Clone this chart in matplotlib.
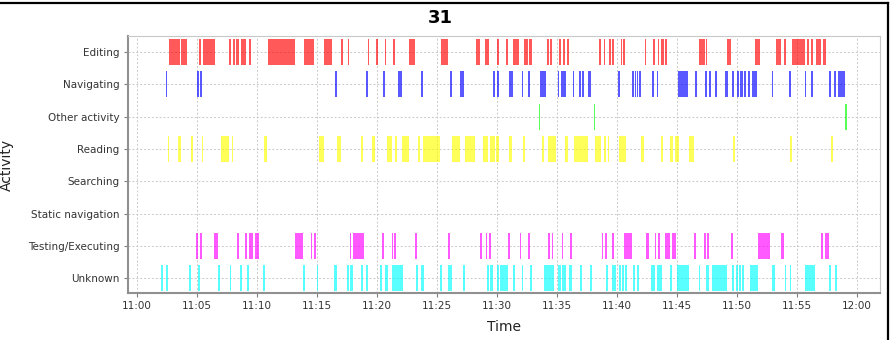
import matplotlib
matplotlib.use("Agg")
import matplotlib.pyplot as plt
from matplotlib.ticker import FuncFormatter, MultipleLocator
from matplotlib.lines import Line2D

# activity intervals, minutes after 11:00 (start, end)
editing = [
    (2.67, 3.58), (3.67, 4.17), (5.17, 5.31), (5.5, 6.5), (7.69, 7.83),
    (8.0, 8.17), (8.25, 8.5), (8.64, 9.06), (9.36, 9.47), (10.89, 13.17),
    (13.92, 14.47), (14.53, 14.75), (15.58, 16.28), (17.03, 17.19), (17.56, 17.67),
    (19.25, 19.36), (19.89, 20.08), (20.64, 20.75), (21.36, 21.5), (22.69, 23.17),
    (25.31, 25.92), (28.25, 28.58), (29.0, 29.14), (29.19, 29.36), (30.03, 30.14),
    (30.75, 30.89), (31.36, 31.86), (32.28, 32.58), (32.69, 32.89), (34.14, 34.31),
    (34.44, 34.61), (35.19, 35.33), (35.47, 35.69), (35.83, 36.03), (38.53, 38.69),
    (38.92, 39.03), (39.36, 39.53), (39.58, 39.78), (40.33, 40.44), (40.53, 40.69),
    (42.33, 42.46), (43.03, 43.19), (43.38, 43.5), (43.71, 43.92), (44.0, 44.21),
    (46.81, 47.31), (47.42, 47.53), (49.21, 49.53), (51.53, 51.96), (53.25, 53.67),
    (53.96, 54.11), (54.61, 55.65), (55.86, 55.97), (56.14, 56.35), (56.56, 56.97),
    (57.21, 57.38),
]
navigating = [
    (2.42, 2.53), (5.04, 5.19), (5.25, 5.44), (16.5, 16.64), (19.08, 19.25),
    (20.53, 20.67), (21.78, 22.06), (23.67, 23.86), (26.08, 26.22), (26.92, 27.28),
    (29.64, 29.83), (29.97, 30.19), (31.03, 31.36), (32.08, 32.19), (32.58, 32.72),
    (33.58, 34.08), (35.06, 35.19), (35.33, 35.75), (36.31, 36.44), (36.81, 36.97),
    (37.08, 37.28), (37.61, 37.81), (40.08, 40.25), (41.29, 41.42), (41.5, 41.58),
    (41.67, 41.79), (41.86, 42.0), (42.96, 43.08), (43.31, 43.42), (45.08, 45.96),
    (46.5, 46.67), (47.33, 47.5), (47.67, 47.83), (48.19, 48.36), (49.04, 49.25),
    (49.58, 49.75), (50.0, 50.17), (50.25, 50.5), (50.58, 50.75), (50.92, 51.08),
    (51.25, 51.67), (52.92, 53.03), (54.33, 54.5), (55.67, 55.79), (56.21, 56.36),
    (57.67, 57.83), (58.08, 58.25), (58.42, 59.03),
]
other = [(33.47, 33.6), (38.08, 38.2), (59.04, 59.17)]
reading = [
    (2.56, 2.67), (3.42, 3.67), (4.48, 4.69), (5.38, 5.53), (6.98, 7.67),
    (7.88, 8.03), (10.61, 10.86), (15.17, 15.58), (16.69, 17.03), (18.64, 18.81),
    (19.56, 19.81), (20.81, 21.22), (21.5, 21.64), (22.06, 22.69), (23.44, 23.58),
    (23.86, 25.25), (26.22, 26.92), (27.33, 28.17), (28.81, 29.28), (29.42, 29.83),
    (29.92, 30.19), (31.03, 31.22), (32.19, 32.36), (33.75, 33.89), (34.22, 34.92),
    (35.69, 35.92), (36.44, 37.56), (38.19, 38.67), (38.94, 39.08), (39.22, 39.36),
    (40.19, 40.75), (42.03, 42.22), (43.69, 43.83), (44.44, 44.64), (44.86, 45.14),
    (45.97, 46.39), (49.67, 49.86), (54.42, 54.58), (57.86, 58.03),
]
searching = []
static_nav = []
testing = [
    (4.93, 5.07), (5.23, 5.38), (6.42, 6.75), (8.33, 8.54), (9.03, 9.17),
    (9.33, 9.63), (9.83, 10.14), (13.17, 13.86), (14.47, 14.61), (14.75, 14.92),
    (17.71, 17.86), (17.96, 18.92), (20.39, 20.58), (21.22, 21.36), (21.44, 21.58),
    (23.17, 23.31), (25.94, 26.08), (28.58, 28.79), (29.08, 29.19), (29.31, 29.46),
    (30.92, 31.06), (31.92, 32.04), (32.61, 32.75), (34.29, 34.46), (34.56, 34.69),
    (35.38, 35.5), (36.11, 36.25), (38.72, 38.86), (39.0, 39.14), (39.58, 39.78),
    (40.58, 41.25), (42.38, 42.69), (43.14, 43.29), (43.43, 43.6), (44.04, 44.42),
    (44.56, 44.92), (46.42, 46.57), (47.25, 47.42), (47.54, 47.69), (49.54, 49.68),
    (51.78, 52.72), (53.67, 53.88), (57.02, 57.19), (57.36, 57.64),
]
unknown = [
    (2.03, 2.15), (2.44, 2.58), (4.31, 4.46), (5.07, 5.23), (6.79, 6.93),
    (7.71, 7.85), (8.6, 8.73), (9.19, 9.33), (10.53, 10.69), (13.86, 14.0),
    (14.97, 15.11), (16.4, 16.69), (17.47, 17.63), (17.79, 17.96), (18.64, 18.81),
    (19.07, 19.27), (20.21, 20.39), (20.67, 20.94), (21.25, 21.5), (21.54, 21.75),
    (21.79, 22.19), (23.25, 23.44), (23.64, 23.92), (25.25, 25.38), (25.94, 26.08),
    (26.12, 26.29), (27.19, 27.33), (29.14, 29.36), (29.42, 29.69), (29.97, 30.17),
    (30.25, 30.5), (30.54, 30.94), (31.36, 31.5), (32.08, 32.19), (32.75, 32.92),
    (33.94, 34.17), (34.21, 34.5), (34.54, 34.78), (35.06, 35.33), (35.38, 35.75),
    (36.03, 36.22), (36.92, 37.08), (37.75, 37.92), (39.08, 39.28), (39.56, 39.92),
    (40.14, 40.33), (40.39, 40.61), (40.63, 40.81), (41.31, 41.5), (41.64, 41.86),
    (42.86, 43.03), (43.04, 43.19), (43.33, 43.5), (43.54, 43.75), (44.44, 44.58),
    (45.0, 45.42), (45.46, 45.97), (46.81, 46.94), (47.38, 47.69), (47.88, 48.25),
    (48.29, 48.75), (48.79, 49.14), (49.56, 49.75), (49.92, 50.11), (50.17, 50.33),
    (50.42, 50.56), (51.11, 51.5), (51.54, 51.75), (52.92, 53.19), (53.97, 54.11),
    (54.39, 54.53), (55.63, 55.92), (55.96, 56.25), (56.29, 56.53), (57.69, 57.83),
    (58.14, 58.31),
]

categories = ["Editing", "Navigating", "Other activity", "Reading", "Searching",
              "Static navigation", "Testing/Executing", "Unknown"]
series = [editing, navigating, other, reading, searching, static_nav, testing, unknown]
colors = ["#ff0000", "#0000ff", "#00ff00", "#ffff00", "#888888",
          "#00aa00", "#ff00ff", "#00ffff"]
title = "31"

plt.rcParams["font.family"] = "DejaVu Sans"

fig = plt.figure(figsize=(8.96, 3.4), dpi=100)
ax = fig.add_axes([128 / 896, 1 - 293 / 340, 752 / 896, 257 / 340])

for i, (spans, col) in enumerate(zip(series, colors)):
    if not spans:
        continue
    ax.broken_barh([(s, e - s) for s, e in spans], (i - 0.4, 0.8),
                   facecolors=col, alpha=0.65, linewidth=0)

ax.set_xlim(-0.75, 61.92)
ax.set_ylim(7.45, -0.49)
ax.set_yticks(range(len(categories)))
ax.set_yticklabels(categories)
ax.xaxis.set_major_locator(MultipleLocator(5))
ax.xaxis.set_major_formatter(FuncFormatter(
    lambda m, p: "{}:{:02d}".format(11 + int(round(m)) // 60, int(round(m)) % 60)))

ax.grid(True, color="#c8c8c8", linestyle=(0, (2, 2)), linewidth=0.7)
ax.set_axisbelow(True)
ax.tick_params(axis="both", labelsize=7.5, colors="#808080", labelcolor="#333333",
               length=3, width=0.8, pad=3)
for side in ["top", "right"]:
    ax.spines[side].set_color("#c8c8c8")
    ax.spines[side].set_linewidth(0.8)
for side in ["left", "bottom"]:
    ax.spines[side].set_color("#909090")
    ax.spines[side].set_linewidth(1.5)

ax.set_xlabel("Time", fontsize=10, color="#222222", labelpad=6)
ax.set_ylabel("Activity", fontsize=10, color="#222222", labelpad=10)
fig.text(440 / 896, 1 - 18 / 340, title, fontsize=13, fontweight="bold",
         ha="center", va="center")

# outer frame (top and right edges visible in the reference)
fig.add_artist(Line2D([0, 887.5 / 896], [1 - 2.5 / 340] * 2, color="black",
                      linewidth=1.6, transform=fig.transFigure))
fig.add_artist(Line2D([887.5 / 896] * 2, [0, 1 - 2.5 / 340], color="black",
                      linewidth=1.6, transform=fig.transFigure))

fig.savefig("out.png", dpi=100)
